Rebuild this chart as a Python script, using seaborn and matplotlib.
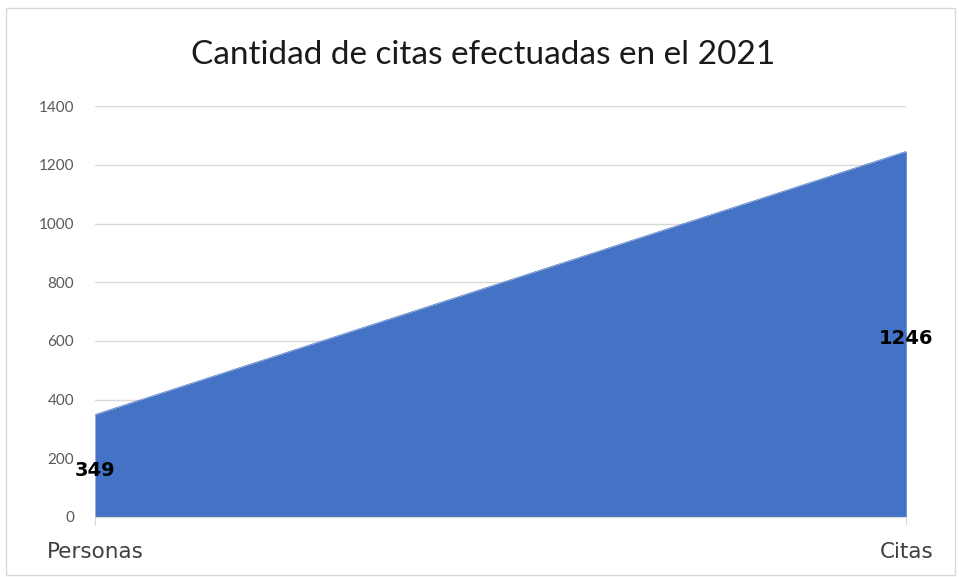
import matplotlib
matplotlib.use('Agg')
import matplotlib.pyplot as plt
import seaborn as sns
import pandas as pd

categories = ['Personas', 'Citas']
valores = [349, 1246]
titulo = 'Cantidad de citas efectuadas en el 2021'

sns.set_style('white')
plt.rcParams['font.family'] = ['Lato', 'DejaVu Sans']

df = pd.DataFrame({'categoria': categories, 'valor': valores})
df['pos'] = range(len(df))

fig = plt.figure(figsize=(9.59, 5.77), dpi=100)
ax = fig.add_axes([0.099, 0.104, 0.846, 0.712])

ax.fill_between(df['pos'], df['valor'], color='#4472C4', zorder=2, linewidth=0)
sns.lineplot(data=df, x='pos', y='valor', ax=ax, color='#4472C4', linewidth=0.5, zorder=3)

for p, v in zip(df['pos'], df['valor']):
    ax.text(p, v / 2 - 15, str(v), ha='center', va='center', fontsize=14,
            fontweight='bold', color='black', zorder=5, family='DejaVu Sans')

ax.set_xlim(0, 1)
ax.set_ylim(0, 1400)
ax.set_yticks(range(0, 1401, 200))
ax.set_xticks(df['pos'])
ax.set_xticklabels(df['categoria'], fontsize=15.5, color='#404040', family='DejaVu Sans')
ax.tick_params(axis='y', labelsize=11, colors='#595959', length=0, pad=15)
ax.tick_params(axis='x', length=6, color='#D9D9D9', pad=12, bottom=True)
ax.yaxis.grid(True, color='#D9D9D9', linewidth=1, zorder=0)
ax.set_xlabel('')
ax.set_ylabel('')
for s in ['top', 'right', 'left']:
    ax.spines[s].set_visible(False)
ax.spines['bottom'].set_color('#D9D9D9')
ax.set_axisbelow(True)

fig.text(0.504, 0.905, titulo, ha='center', va='center', fontsize=24, color='#1a1a1a')

border = plt.Rectangle((0.006, 0.004), 0.99, 0.982, transform=fig.transFigure,
                       fill=False, edgecolor='#D9D9D9', linewidth=1)
fig.patches.append(border)

fig.savefig('out.png', dpi=100)
